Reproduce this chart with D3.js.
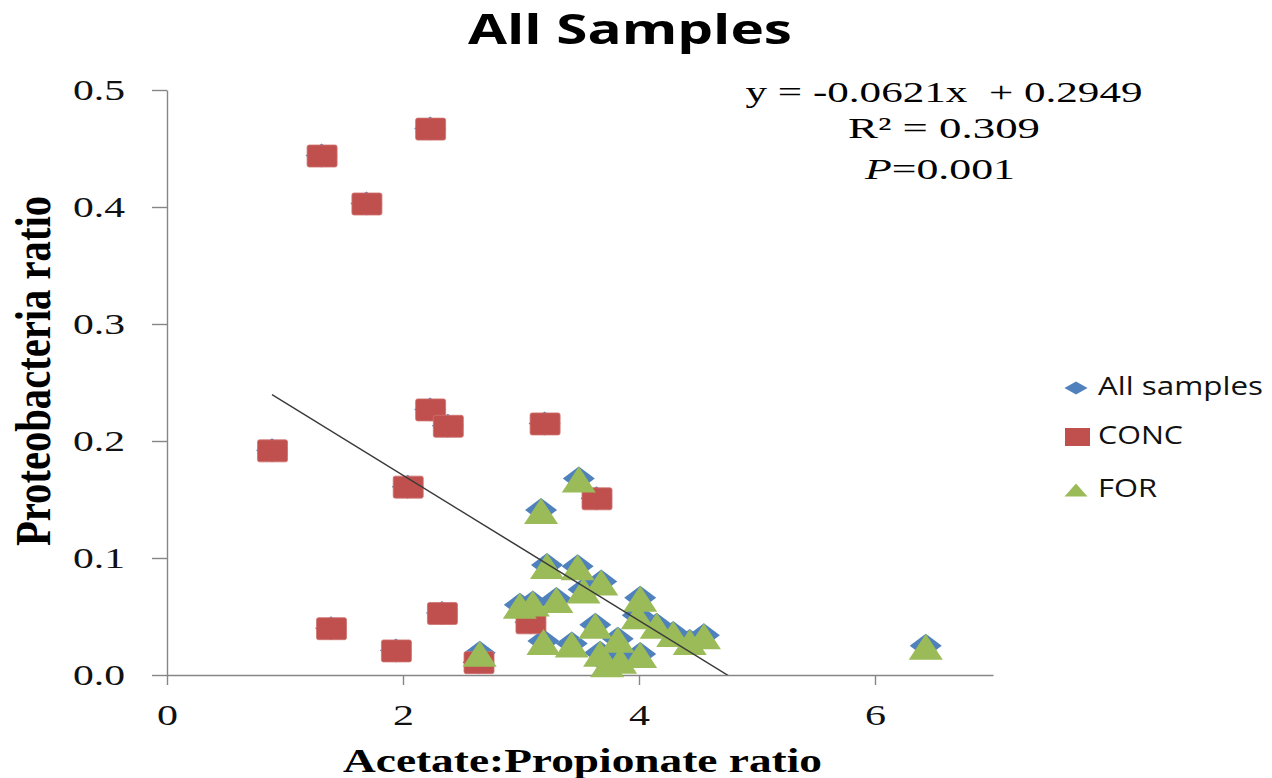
<!DOCTYPE html>
<html>
<head>
<meta charset="utf-8">
<script src="https://cdn.jsdelivr.net/npm/d3@7"></script>
<style>
  body { margin: 0; background: #fff; }
</style>
</head>
<body>
<div id="chart"></div>
<script>
// CONC samples (red squares)
const concX = [2.23, 1.31, 1.69, 0.89, 2.23, 2.38, 3.20, 2.04, 3.64, 1.39, 1.94, 2.33, 2.64, 3.08];
const concY = [0.467, 0.444, 0.403, 0.192, 0.227, 0.213, 0.215, 0.161, 0.151, 0.040, 0.021, 0.053, 0.011, 0.045];

// FOR samples (green triangles)
const forX = [6.43, 3.49, 3.17, 3.22, 3.48, 3.68, 3.53, 2.99, 3.10, 3.30, 4.01, 3.99,
              4.15, 4.29, 4.43, 4.55, 3.19, 3.43, 3.63, 3.82, 4.01, 3.67, 3.84, 3.73, 2.65];
const forY = [0.025, 0.168, 0.141, 0.094, 0.093, 0.080, 0.073, 0.060, 0.062, 0.065, 0.066, 0.051,
              0.043, 0.036, 0.029, 0.034, 0.029, 0.027, 0.043, 0.031, 0.018, 0.019, 0.013, 0.010, 0.019];

const xTicks = [0, 2, 4, 6];
const yTicks = [0, 0.1, 0.2, 0.3, 0.4, 0.5];

// linear trendline over all samples
const slope = -0.0621;
const intercept = 0.2949;
const eqLines = ["y = -0.0621x  + 0.2949", "R\u00B2 = 0.309", "=0.001"];

const seriesNames = ["All samples", "CONC", "FOR"];
const colors = ["#4F81BD", "#C0504D", "#9BBB59"];

const dimensions = {
    width: 1272,
    height: 778,
    margin: { top: 90, right: 279, bottom: 103, left: 167 }
};

const concData = concX.map((x, i) => ({ x: x, y: concY[i] }));
const forData = forX.map((x, i) => ({ x: x, y: forY[i] }));
const allData = concData.concat(forData);

const svg = d3.select("#chart").append("svg")
    .attr("width", dimensions.width)
    .attr("height", dimensions.height);

const xScale = d3.scaleLinear()
    .domain([0, 7])
    .range([dimensions.margin.left, dimensions.width - dimensions.margin.right]);

const yScale = d3.scaleLinear()
    .domain([0, 0.5])
    .range([dimensions.height - dimensions.margin.bottom, dimensions.margin.top]);

const axisColor = "#868686";

// y axis
const yAxis = svg.append("g")
    .attr("transform", "translate(" + xScale(0) + ",0)")
    .call(d3.axisLeft(yScale).tickValues(yTicks).tickSize(15).tickSizeOuter(0)
        .tickPadding(27).tickFormat(d3.format(".1f")));

// x axis
const xAxis = svg.append("g")
    .attr("transform", "translate(0," + yScale(0) + ")")
    .call(d3.axisBottom(xScale).tickValues(xTicks).tickSize(10).tickSizeOuter(0)
        .tickPadding(19).tickFormat(d3.format("d")));

[yAxis, xAxis].forEach(ax => {
    ax.selectAll("path, line").attr("stroke", axisColor).attr("stroke-width", 1.4);
    ax.selectAll("text")
        .attr("fill", "#111")
        .style("font-family", "'Liberation Serif', 'Times New Roman', serif")
        .style("font-size", "30px")
        .attr("lengthAdjust", "spacingAndGlyphs");
});
yAxis.selectAll("text").attr("textLength", 52);
xAxis.selectAll("text").attr("textLength", 21);

// markers
const diamond = "M0,-12L16,0L0,12L-16,0Z";
const triangle = "M0,-12L17,14L-17,14Z";

svg.append("g").selectAll("path")
    .data(allData)
    .enter().append("path")
    .attr("d", diamond)
    .attr("transform", d => "translate(" + xScale(d.x) + "," + yScale(d.y) + ")")
    .attr("fill", colors[0]);

svg.append("g").selectAll("rect")
    .data(concData)
    .enter().append("rect")
    .attr("x", d => xScale(d.x) - 14.5)
    .attr("y", d => yScale(d.y) - 10.5)
    .attr("width", 30)
    .attr("height", 22)
    .attr("rx", 2)
    .attr("fill", colors[1])
    .attr("stroke", "#cf716e")
    .attr("stroke-width", 0.8);

svg.append("g").selectAll("path")
    .data(forData)
    .enter().append("path")
    .attr("d", triangle)
    .attr("transform", d => "translate(" + xScale(d.x) + "," + yScale(d.y) + ")")
    .attr("fill", colors[2]);

// trendline, clipped to the plot area
svg.append("clipPath").attr("id", "plotClip")
    .append("rect")
    .attr("x", xScale(0)).attr("y", yScale(0.5))
    .attr("width", xScale(7) - xScale(0))
    .attr("height", yScale(0) - yScale(0.5));

const xExtent = d3.extent(allData, d => d.x);
svg.append("line")
    .attr("clip-path", "url(#plotClip)")
    .attr("x1", xScale(xExtent[0]))
    .attr("y1", yScale(slope * xExtent[0] + intercept))
    .attr("x2", xScale(xExtent[1]))
    .attr("y2", yScale(slope * xExtent[1] + intercept))
    .attr("stroke", "#3a3a3a")
    .attr("stroke-width", 1.4);

// title
svg.append("text")
    .attr("x", 468)
    .attr("y", 44)
    .attr("textLength", 324)
    .attr("lengthAdjust", "spacingAndGlyphs")
    .style("font-family", "'Open Sans', 'Liberation Sans', sans-serif")
    .style("font-weight", "bold")
    .style("font-size", "41px")
    .text("All Samples");

// axis titles
svg.append("text")
    .attr("x", 343)
    .attr("y", 772)
    .attr("textLength", 479)
    .attr("lengthAdjust", "spacingAndGlyphs")
    .style("font-family", "'Liberation Serif', 'Times New Roman', serif")
    .style("font-weight", "bold")
    .style("font-size", "34px")
    .text("Acetate:Propionate ratio");

svg.append("text")
    .attr("transform", "translate(50,371) scale(1.55,1) rotate(-90)")
    .attr("text-anchor", "middle")
    .attr("textLength", 350)
    .attr("lengthAdjust", "spacingAndGlyphs")
    .style("font-family", "'Liberation Serif', 'Times New Roman', serif")
    .style("font-weight", "bold")
    .style("font-size", "32px")
    .text("Proteobacteria ratio");

// regression equation
const eqFont = "'Liberation Serif', 'Times New Roman', serif";
svg.append("text")
    .attr("x", 944).attr("y", 102)
    .attr("text-anchor", "middle")
    .attr("textLength", 397).attr("lengthAdjust", "spacingAndGlyphs")
    .style("font-family", eqFont).style("font-size", "30px")
    .style("white-space", "pre")
    .text(eqLines[0]);

svg.append("text")
    .attr("x", 944).attr("y", 138)
    .attr("text-anchor", "middle")
    .attr("textLength", 192).attr("lengthAdjust", "spacingAndGlyphs")
    .style("font-family", eqFont).style("font-size", "30px")
    .text(eqLines[1]);

const pText = svg.append("text")
    .attr("x", 940).attr("y", 179)
    .attr("text-anchor", "middle")
    .attr("textLength", 150).attr("lengthAdjust", "spacingAndGlyphs")
    .style("font-family", eqFont).style("font-size", "30px");
pText.append("tspan").style("font-style", "italic").text("P");
pText.append("tspan").text(eqLines[2]);

// legend
const legend = svg.append("g");
const legendY = [388, 437, 490];
const legendLen = [165, 85, 59];

legend.append("path").attr("d", "M0,-6.5L11.5,0L0,6.5L-11.5,0Z")
    .attr("transform", "translate(1076," + legendY[0] + ")").attr("fill", colors[0]);
legend.append("rect").attr("x", 1065).attr("y", legendY[1] - 9)
    .attr("width", 25).attr("height", 18).attr("fill", colors[1]);
legend.append("path").attr("d", "M0,-6.5L11.5,6.5L-11.5,6.5Z")
    .attr("transform", "translate(1076," + legendY[2] + ")").attr("fill", colors[2]);

seriesNames.forEach((name, i) => {
    legend.append("text")
        .attr("x", 1098)
        .attr("y", legendY[i] + 7)
        .attr("textLength", legendLen[i])
        .attr("lengthAdjust", "spacingAndGlyphs")
        .style("font-family", "'Open Sans', 'Liberation Sans', sans-serif")
        .style("font-size", "25px")
        .attr("fill", "#111")
        .text(name);
});
</script>
</body>
</html>
